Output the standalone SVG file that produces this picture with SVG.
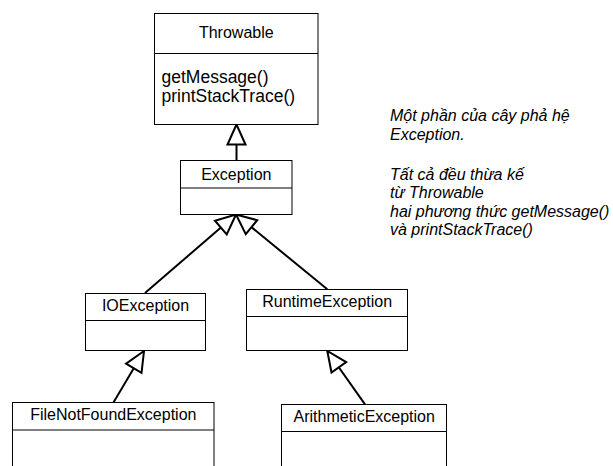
<svg xmlns="http://www.w3.org/2000/svg" width="613" height="466" viewBox="0 0 613 466">
<style>
.box{fill:#fff;stroke:#000;stroke-width:1}
.div{stroke:#000;stroke-width:1}
.name{font-family:"Liberation Sans",Arial,sans-serif;font-size:16px;fill:#000;text-anchor:middle}
.meth{font-family:"Liberation Sans",Arial,sans-serif;font-size:17.5px;fill:#000}
.note{font-family:"Liberation Sans",Arial,sans-serif;font-size:16px;font-style:italic;fill:#000}
.conn{stroke:#000;stroke-width:2;fill:none}
</style>
<defs>
<marker id="gen" markerUnits="userSpaceOnUse" viewBox="0 0 20 18" refX="20" refY="9" markerWidth="20" markerHeight="18" orient="auto" overflow="visible">
<path d="M20,9 L0,0 L0,18 Z" fill="#fff" stroke="#000" stroke-width="2" stroke-linejoin="miter"/>
</marker>
</defs>
<rect width="613" height="466" fill="#fff"/>
<g id="connectors">
<line class="conn" x1="236.5" y1="160.5" x2="236.5" y2="124.5" marker-end="url(#gen)"/>
<line class="conn" x1="145" y1="293" x2="236" y2="214.5" marker-end="url(#gen)"/>
<line class="conn" x1="327.3" y1="289.3" x2="236" y2="214.5" marker-end="url(#gen)"/>
<line class="conn" x1="113.3" y1="402.7" x2="144" y2="351" marker-end="url(#gen)"/>
<line class="conn" x1="365" y1="404.3" x2="327.3" y2="351" marker-end="url(#gen)"/>
</g>
<g id="throwable">
<rect class="box" x="154.5" y="13.5" width="163.5" height="111"/>
<line class="div" x1="154.5" y1="53.5" x2="318" y2="53.5"/>
<text class="name" x="236.3" y="37.5">Throwable</text>
<text class="meth" x="161.5" y="82.5">getMessage()</text>
<text class="meth" x="161.5" y="101.5">printStackTrace()</text>
</g>
<g id="exception">
<rect class="box" x="180.5" y="160.5" width="111.5" height="54"/>
<line class="div" x1="180.5" y1="188" x2="292" y2="188"/>
<text class="name" x="236.3" y="180">Exception</text>
</g>
<g id="ioexception">
<rect class="box" x="85.5" y="293.5" width="120" height="57"/>
<line class="div" x1="85.5" y1="320.5" x2="205.5" y2="320.5"/>
<text class="name" x="145.5" y="310.7">IOException</text>
</g>
<g id="runtimeexception">
<rect class="box" x="246.5" y="289.5" width="161" height="61"/>
<line class="div" x1="246.5" y1="316.5" x2="407.5" y2="316.5"/>
<text class="name" x="327.2" y="307.3">RuntimeException</text>
</g>
<g id="filenotfoundexception">
<rect class="box" x="12.5" y="402.5" width="201.5" height="70"/>
<line class="div" x1="12.5" y1="430" x2="214" y2="430"/>
<text class="name" x="113.3" y="420">FileNotFoundException</text>
</g>
<g id="arithmeticexception">
<rect class="box" x="281.5" y="404.5" width="165" height="70"/>
<line class="div" x1="281.5" y1="431.5" x2="446.5" y2="431.5"/>
<text class="name" x="364.2" y="422.3">ArithmeticException</text>
</g>
<g id="note">
<text class="note" x="390" y="121">Một phần của cây phả hệ</text>
<text class="note" x="390" y="140">Exception.</text>
<text class="note" x="390" y="179.5">Tất cả đều thừa kế</text>
<text class="note" x="390" y="198">từ Throwable</text>
<text class="note" x="390" y="216.5">hai phương thức getMessage()</text>
<text class="note" x="390" y="235">và printStackTrace()</text>
</g>
</svg>
